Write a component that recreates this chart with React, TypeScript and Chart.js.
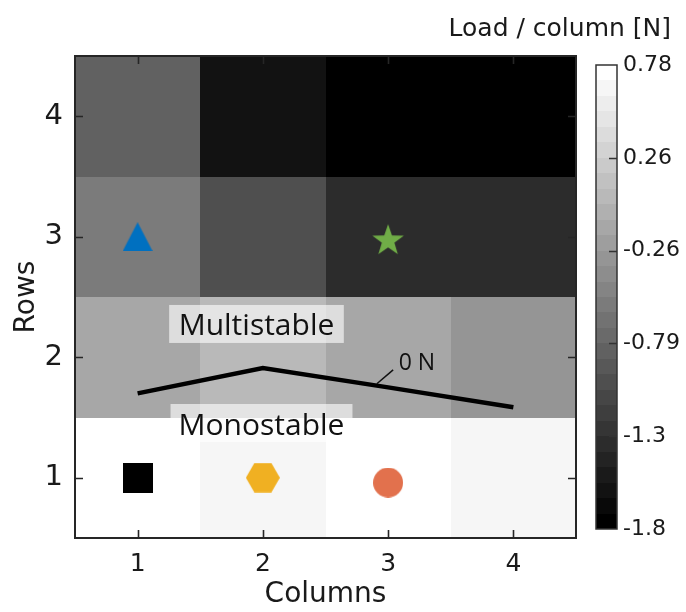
import React, { useEffect, useRef } from 'react';
import { Chart, registerables } from 'chart.js';

Chart.register(...registerables);

// ---- data ----
const columns = [1, 2, 3, 4];
const rows = [1, 2, 3, 4];
// load per column [N] for each row (left to right = columns 1..4)
const loadRow1 = [0.737, 0.651, 0.737, 0.651];
const loadRow2 = [-0.13, 0.049, -0.122, -0.295];
const loadRow3 = [-0.553, -0.983, -1.327, -1.33];
const loadRow4 = [-0.811, -1.585, -1.757, -1.75];
const loadRows = [loadRow1, loadRow2, loadRow3, loadRow4];

const colorMin = -1.8;
const colorMax = 0.78;
const colorLevels = 30;
const colorTickValues = [0.78, 0.264, -0.252, -0.768, -1.284, -1.8];
const colorTickLabels = ['0.78', '0.26', '-0.26', '-0.79', '-1.3', '-1.8'];
const colorBarTitle = 'Load / column [N]';

// 0 N contour
const zeroContourX = [1, 2, 3, 4];
const zeroContourY = [1.7, 1.91, 1.75, 1.585];

// markers
const markerNames = ['triangle', 'star', 'square', 'hexagon', 'circle'];
const markerX = [1, 3, 1, 2, 3];
const markerY = [3, 2.98, 1, 1, 0.96];
const markerColors = ['#0070c0', '#70ad47', '#000000', '#f0b022', '#e2714d'];

// ---- styles / annotation anchors ----
const TEXT = '#1a1a1a';
const AXIS_FONT = 'DejaVu Sans';
const NOTE_FONT = 'Open Sans';
const regionLabels = [
  { text: 'Multistable', x: 1.949, y: 2.268, padX: 9.5, boxH: 38 },
  { text: 'Monostable', x: 1.989, y: 1.446, padX: 8, boxH: 38 },
];
const contourLabel = { text: '0 N', x: 3.23, y: 1.965, lead: [2.91, 1.78, 3.04, 1.895] };

function grayFor(v: number) {
  let k = Math.floor(((v - colorMin) / (colorMax - colorMin)) * colorLevels);
  k = Math.max(0, Math.min(colorLevels - 1, k));
  const g = Math.round((k / (colorLevels - 1)) * 255);
  return `rgb(${g},${g},${g})`;
}

function makeCanvas(w: number, h: number, draw: (c: CanvasRenderingContext2D) => void) {
  const c = document.createElement('canvas');
  c.width = w;
  c.height = h;
  const ctx = c.getContext('2d')!;
  draw(ctx);
  return c;
}

function makeMarker(name: string, color: string) {
  if (name === 'triangle') {
    return makeCanvas(30, 29, (c) => {
      c.fillStyle = color;
      c.beginPath();
      c.moveTo(15, 0);
      c.lineTo(30, 29);
      c.lineTo(0, 29);
      c.closePath();
      c.fill();
    });
  }
  if (name === 'star') {
    const R = 16.6, r = 6.6;
    return makeCanvas(34, 32, (c) => {
      const cx = 17, cy = 16 + 0.0955 * R;
      c.fillStyle = color;
      c.beginPath();
      for (let i = 0; i < 10; i++) {
        const rad = i % 2 === 0 ? R : r;
        const a = -Math.PI / 2 + (i * Math.PI) / 5;
        const px = cx + rad * Math.cos(a), py = cy + rad * Math.sin(a);
        if (i === 0) c.moveTo(px, py); else c.lineTo(px, py);
      }
      c.closePath();
      c.fill();
    });
  }
  if (name === 'hexagon') {
    const R = 17;
    return makeCanvas(34, 30, (c) => {
      c.fillStyle = color;
      c.beginPath();
      for (let i = 0; i < 6; i++) {
        const a = (i * Math.PI) / 3;
        const px = 17 + R * Math.cos(a), py = 15 + R * Math.sin(a);
        if (i === 0) c.moveTo(px, py); else c.lineTo(px, py);
      }
      c.closePath();
      c.fill();
    });
  }
  if (name === 'square') {
    return makeCanvas(30, 30, (c) => {
      c.fillStyle = color;
      c.fillRect(0, 0, 30, 30);
    });
  }
  return makeCanvas(30, 30, (c) => {
    c.fillStyle = color;
    c.beginPath();
    c.arc(15, 15, 15, 0, Math.PI * 2);
    c.fill();
  });
}

const heatmapPlugin = {
  id: 'heatmap',
  beforeDatasetsDraw(chart: any) {
    const { ctx } = chart;
    const x = chart.scales.x, y = chart.scales.y;
    ctx.save();
    rows.forEach((r, ri) => {
      columns.forEach((c, ci) => {
        const x0 = Math.round(x.getPixelForValue(c - 0.5));
        const x1 = Math.round(x.getPixelForValue(c + 0.5));
        const y0 = Math.round(y.getPixelForValue(r + 0.5));
        const y1 = Math.round(y.getPixelForValue(r - 0.5));
        ctx.fillStyle = grayFor(loadRows[ri][ci]);
        ctx.fillRect(x0, y0, x1 - x0, y1 - y0);
      });
    });
    ctx.restore();
  },
};

const decorPlugin = {
  id: 'decor',
  afterDatasetsDraw(chart: any) {
    const { ctx, chartArea } = chart;
    const x = chart.scales.x, y = chart.scales.y, cb = chart.scales.cb;
    const { left, right, top, bottom } = chartArea;
    ctx.save();

    // region labels with translucent boxes
    regionLabels.forEach((l) => {
      ctx.font = `30px "${NOTE_FONT}"`;
      const w = ctx.measureText(l.text).width;
      const capH = ctx.measureText('M').actualBoundingBoxAscent;
      const cx = x.getPixelForValue(l.x);
      const cy = y.getPixelForValue(l.y);
      ctx.fillStyle = 'rgba(255,255,255,0.62)';
      ctx.fillRect(cx - w / 2 - l.padX, cy - 1 - l.boxH / 2, w + 2 * l.padX, l.boxH);
      ctx.fillStyle = '#111';
      ctx.textAlign = 'center';
      ctx.textBaseline = 'alphabetic';
      ctx.fillText(l.text, cx, cy + capH / 2);
    });

    // contour label + leader line
    ctx.strokeStyle = '#111';
    ctx.lineWidth = 1.5;
    ctx.beginPath();
    ctx.moveTo(x.getPixelForValue(contourLabel.lead[0]), y.getPixelForValue(contourLabel.lead[1]));
    ctx.lineTo(x.getPixelForValue(contourLabel.lead[2]), y.getPixelForValue(contourLabel.lead[3]));
    ctx.stroke();
    ctx.font = `23px "${NOTE_FONT}"`;
    const capN = ctx.measureText('N').actualBoundingBoxAscent;
    ctx.fillStyle = '#111';
    ctx.textAlign = 'center';
    ctx.textBaseline = 'alphabetic';
    ctx.fillText(contourLabel.text, x.getPixelForValue(contourLabel.x), y.getPixelForValue(contourLabel.y) + capN / 2);

    // frame and inward ticks
    ctx.strokeStyle = '#262626';
    ctx.lineWidth = 2;
    ctx.strokeRect(left, top, right - left, bottom - top);
    ctx.lineWidth = 1.6;
    ctx.beginPath();
    columns.forEach((c) => {
      const px = Math.round(x.getPixelForValue(c)) + 0.5;
      ctx.moveTo(px, bottom); ctx.lineTo(px, bottom - 8);
      ctx.moveTo(px, top); ctx.lineTo(px, top + 8);
    });
    rows.forEach((r) => {
      const py = Math.round(y.getPixelForValue(r)) + 0.5;
      ctx.moveTo(left, py); ctx.lineTo(left + 8, py);
      ctx.moveTo(right, py); ctx.lineTo(right - 8, py);
    });
    ctx.stroke();

    // colour bar
    const bx0 = Math.round(cb.left + 20);
    const bx1 = Math.round(cb.left + 41);
    const step = (colorMax - colorMin) / colorLevels;
    for (let k = 0; k < colorLevels; k++) {
      const vLo = colorMin + k * step;
      const pyTop = Math.round(cb.getPixelForValue(vLo + step));
      const pyBot = Math.round(cb.getPixelForValue(vLo));
      const g = Math.round((k / (colorLevels - 1)) * 255);
      ctx.fillStyle = `rgb(${g},${g},${g})`;
      ctx.fillRect(bx0, pyTop, bx1 - bx0, pyBot - pyTop);
    }
    const cbTop = Math.round(cb.getPixelForValue(colorMax));
    const cbBot = Math.round(cb.getPixelForValue(colorMin));
    ctx.strokeStyle = '#333';
    ctx.lineWidth = 1.5;
    ctx.strokeRect(bx0, cbTop, bx1 - bx0, cbBot - cbTop);
    ctx.beginPath();
    colorTickValues.forEach((v, i) => {
      if (i === 0 || i === colorTickValues.length - 1) return;
      const py = Math.round(cb.getPixelForValue(v)) + 0.5;
      ctx.moveTo(bx1, py); ctx.lineTo(bx1 - 8, py);
    });
    ctx.stroke();

    // colour bar title (right-aligned above the bar)
    ctx.font = `25px "${AXIS_FONT}"`;
    const capL = ctx.measureText('L').actualBoundingBoxAscent;
    ctx.fillStyle = TEXT;
    ctx.textAlign = 'right';
    ctx.textBaseline = 'alphabetic';
    ctx.fillText(colorBarTitle, cb.right - 15, 27 + capL / 2);

    ctx.restore();
  },
};

const noLabelPadding = (s: any) => {
  s.paddingTop = 0;
  s.paddingBottom = 0;
  s.paddingLeft = 0;
  s.paddingRight = 0;
};

export default function App() {
  const ref = useRef<HTMLCanvasElement | null>(null);

  useEffect(() => {
    if (!ref.current) return;
    const markerSets = markerNames.map((n, i) => ({
      type: 'scatter' as const,
      data: [{ x: markerX[i], y: markerY[i] }],
      pointStyle: makeMarker(n, markerColors[i]),
      pointRadius: 15,
      backgroundColor: markerColors[i],
      borderWidth: 0,
    }));

    const chart = new Chart(ref.current, {
      type: 'scatter',
      data: {
        datasets: [
          {
            type: 'line' as const,
            data: zeroContourX.map((vx, i) => ({ x: vx, y: zeroContourY[i] })),
            borderColor: '#000',
            borderWidth: 4.5,
            pointRadius: 0,
            tension: 0,
            fill: false,
            borderJoinStyle: 'miter',
            borderCapStyle: 'butt',
          } as any,
          ...markerSets,
        ],
      },
      options: {
        responsive: false,
        animation: false,
        devicePixelRatio: 1,
        layout: { padding: { left: 0, right: 0, top: 56, bottom: 0 } },
        plugins: {
          legend: { display: false },
          tooltip: { enabled: false },
          title: { display: false },
        },
        scales: {
          x: {
            type: 'linear',
            position: 'bottom',
            min: 0.5,
            max: 4.5,
            grid: { display: false, drawTicks: false },
            border: { display: false },
            afterBuildTicks: (s: any) => { s.ticks = columns.map((v) => ({ value: v })); },
            afterFit: (s: any) => { s.height = 74; noLabelPadding(s); },
            ticks: { color: TEXT, font: { family: AXIS_FONT, size: 25 }, padding: 11, autoSkip: false, maxRotation: 0 },
            title: { display: true, text: 'Columns', color: TEXT, font: { family: AXIS_FONT, size: 28 }, padding: { top: 0, bottom: 0 } },
          },
          y: {
            type: 'linear',
            position: 'left',
            min: 0.5,
            max: 4.5,
            grid: { display: false, drawTicks: false },
            border: { display: false },
            afterBuildTicks: (s: any) => { s.ticks = rows.map((v) => ({ value: v })); },
            afterFit: (s: any) => { s.width = 75; noLabelPadding(s); },
            ticks: { color: TEXT, font: { family: AXIS_FONT, size: 29 }, padding: 12, autoSkip: false },
            title: { display: true, text: 'Rows', color: TEXT, font: { family: AXIS_FONT, size: 28 }, padding: { top: 10, bottom: 0 } },
          },
          cb: {
            type: 'linear',
            position: 'right',
            min: colorMin - 0.05,
            max: colorMax + 0.05,
            grid: { display: false, drawTicks: false },
            border: { display: false },
            afterBuildTicks: (s: any) => { s.ticks = colorTickValues.map((v) => ({ value: v })); },
            afterFit: (s: any) => { s.width = 110; noLabelPadding(s); },
            ticks: {
              color: TEXT,
              font: { family: AXIS_FONT, size: 22 },
              padding: 47,
              autoSkip: false,
              callback: (_v: any, i: number) => colorTickLabels[i],
            },
          },
        },
      } as any,
      plugins: [heatmapPlugin, decorPlugin],
    });
    return () => chart.destroy();
  }, []);

  return (
    <div style={{ position: 'absolute', left: 0, top: 0, width: 686, height: 612, background: '#fff' }}>
      <canvas ref={ref} width={686} height={612} style={{ display: 'block' }} />
    </div>
  );
}
